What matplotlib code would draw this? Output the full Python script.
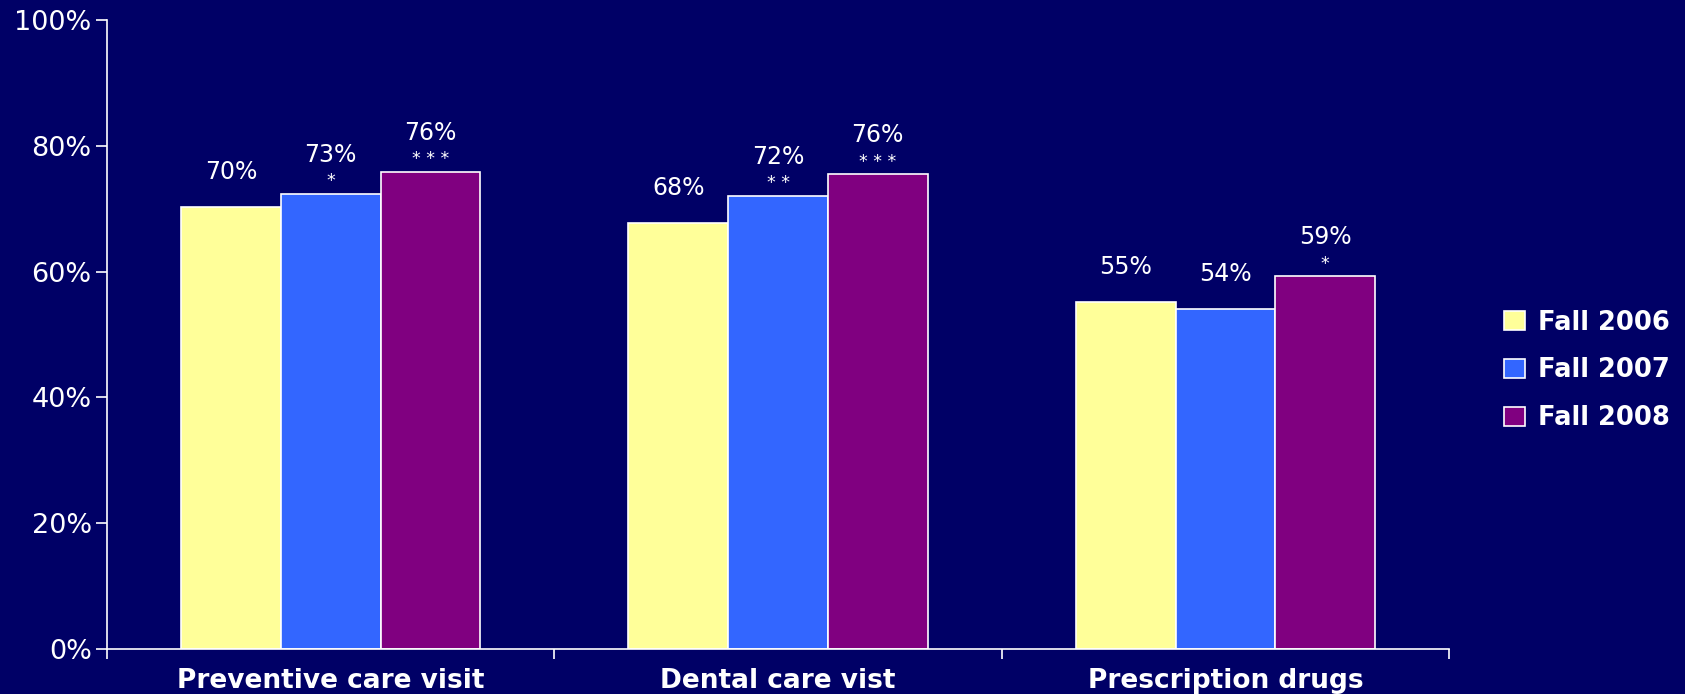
import numpy as np
import matplotlib
matplotlib.use('Agg')
import matplotlib.pyplot as plt
from matplotlib.ticker import FixedLocator, PercentFormatter

plt.rcParams['font.family'] = ['DejaVu Sans']

categories = ['Preventive care visit', 'Dental care vist', 'Prescription drugs']
series = ['Fall 2006', 'Fall 2007', 'Fall 2008']
values = [
    [70.3, 67.8, 55.2],
    [72.4, 72.1, 54.1],
    [75.9, 75.5, 59.3],
]
labels = [
    ['70%', '68%', '55%'],
    ['73%', '72%', '54%'],
    ['76%', '76%', '59%'],
]
stars = [
    ['', '', ''],
    ['*', '* *', ''],
    ['* * *', '* * *', '*'],
]
colors = ['#FFFF99', '#3366FF', '#800080']

bg = '#000066'
fig = plt.figure(figsize=(16.85, 6.94), dpi=100, facecolor=bg)
ax = fig.add_axes([0.0635, 0.0648, 0.7965, 0.9062], facecolor=bg)

x = np.arange(len(categories))
width = 0.223
for i, name in enumerate(series):
    pos = x + (i - 1) * width
    ax.bar(pos, values[i], width, color=colors[i], edgecolor='white',
           linewidth=1.2, label=name, zorder=2)
    for j, v in enumerate(values[i]):
        dy = 28 if stars[i][j] else 25
        ax.annotate(labels[i][j], (pos[j], v), xytext=(0, dy), textcoords='offset points',
                    ha='center', va='center', color='white', fontsize=17)
        if stars[i][j]:
            ax.annotate(stars[i][j], (pos[j], v), xytext=(0, 9), textcoords='offset points',
                        ha='center', va='center', color='white', fontsize=12.5)

ax.set_xlim(-0.5, 2.5)
ax.set_ylim(0, 100)
ax.set_yticks(np.arange(0, 101, 20))
ax.yaxis.set_major_formatter(PercentFormatter(decimals=0))
ax.set_xticks(x)
ax.set_xticklabels(categories, fontsize=19, fontweight='bold', color='white')
ax.xaxis.set_minor_locator(FixedLocator([-0.5, 0.5, 1.5, 2.5]))
ax.tick_params(axis='x', which='major', length=0, pad=14)
ax.tick_params(axis='x', which='minor', length=7, width=1.2, color='white', direction='out')
ax.tick_params(axis='y', length=8, width=1.2, color='white', labelcolor='white',
               labelsize=19.5, pad=3)

for s in ['top', 'right']:
    ax.spines[s].set_visible(False)
for s in ['left', 'bottom']:
    ax.spines[s].set_color('white')
    ax.spines[s].set_linewidth(1.2)

leg = ax.legend(loc='center left', bbox_to_anchor=(1.024, 0.443), frameon=False,
                prop={'size': 18.5, 'weight': 'bold'}, labelcolor='white',
                handlelength=0.8, handleheight=0.8, labelspacing=0.85, handletextpad=0.5)

fig.savefig('out.png', facecolor=bg)
